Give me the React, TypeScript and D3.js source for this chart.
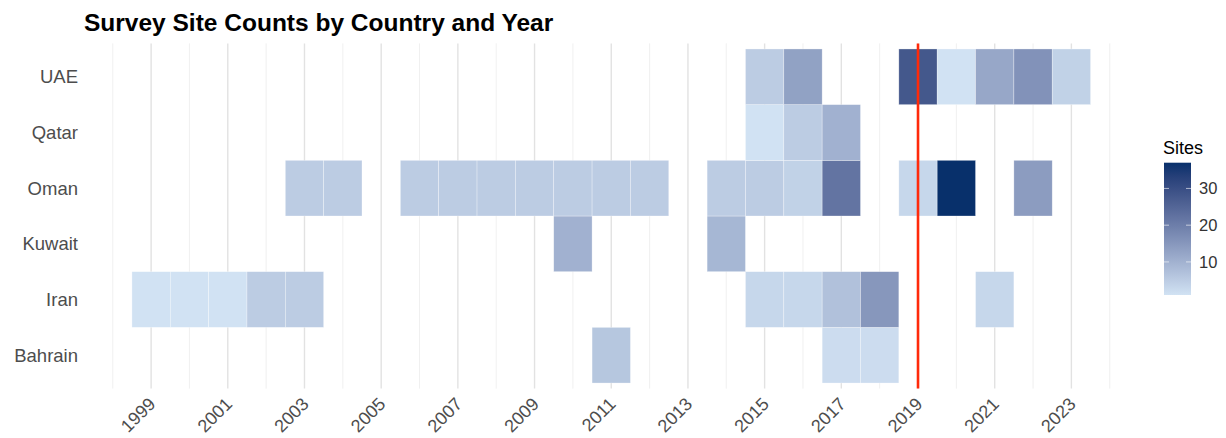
import * as d3 from 'd3';

// ─── Datos ────────────────────────────────────────────────────────────────
const countries = ['Bahrain', 'Iran', 'Kuwait', 'Oman', 'Qatar', 'UAE'];
const yearTicks = [1999, 2001, 2003, 2005, 2007, 2009, 2011, 2013, 2015, 2017, 2019, 2021, 2023];
const minorYears = [1998, 2000, 2002, 2004, 2006, 2008, 2010, 2012, 2014, 2016, 2018, 2020, 2022, 2024];
const legendTicks = [10, 20, 30];
const markerYear = 2019;

const bahrainYears = [2011, 2017, 2018];
const bahrainSites = [6, 2, 2];
const iranYears = [1999, 2000, 2001, 2002, 2003, 2015, 2016, 2017, 2018, 2021];
const iranSites = [1, 1, 1, 5, 5, 3, 3, 7, 15, 3];
const kuwaitYears = [2010, 2014];
const kuwaitSites = [10, 9];
const omanYears = [2003, 2004, 2006, 2007, 2008, 2009, 2010, 2011, 2012, 2014, 2015, 2016, 2017, 2019, 2020, 2022];
const omanSites = [5, 5, 5, 5, 5, 5, 5, 5, 5, 5, 5, 4, 22, 3, 37, 14];
const qatarYears = [2015, 2016, 2017];
const qatarSites = [1, 5, 10];
const uaeYears = [2015, 2016, 2019, 2020, 2021, 2022, 2023];
const uaeSites = [5, 13, 28, 1, 12, 16, 4];

const rows = [
  { country: 'Bahrain', years: bahrainYears, sites: bahrainSites },
  { country: 'Iran', years: iranYears, sites: iranSites },
  { country: 'Kuwait', years: kuwaitYears, sites: kuwaitSites },
  { country: 'Oman', years: omanYears, sites: omanSites },
  { country: 'Qatar', years: qatarYears, sites: qatarSites },
  { country: 'UAE', years: uaeYears, sites: uaeSites },
];

const W = 1226;
const H = 438;
const FONT = '"Liberation Sans", Arial, sans-serif';

export default function App() {
  const tiles = rows.flatMap(r => r.years.map((y, i) => ({ country: r.country, year: y, sites: r.sites[i] })));

  const x = d3.scaleLinear().domain([1997.25, 2024.75]).range([84, 1138.5]);
  const y = d3.scaleLinear().domain([0.4, countries.length + 0.6]).range([388.6, 43.4]);
  const rowIdx = (c: string) => countries.indexOf(c) + 1;

  const sMin = 1;
  const sMax = 37;
  const color = d3.scaleLinear<string>()
    .domain([sMin, sMax])
    .range(['#d1e2f3', '#08306b'])
    .interpolate(d3.interpolateLab);

  // leyenda
  const lgX = 1164;
  const lgW = 27;
  const lgY = d3.scaleLinear().domain([sMin, sMax]).range([295, 162.7]);
  const stops = d3.range(0, 1.0001, 0.1).map(t => ({ t, c: color(sMin + t * (sMax - sMin)) }));

  const panelTop = y(countries.length + 0.6);
  const panelBottom = y(0.4);

  return (
    <svg width={W} height={H} style={{ position: 'absolute', left: 0, top: 0, background: '#fff' }} fontFamily={FONT}>
      <defs>
        <linearGradient id="sites-grad" x1="0" y1="1" x2="0" y2="0">
          {stops.map(s => (
            <stop key={s.t} offset={`${s.t * 100}%`} stopColor={s.c} />
          ))}
        </linearGradient>
      </defs>

      {/* Título */}
      <text x={84} y={31} fontSize={24.5} fontWeight="bold" fill="#000">
        Survey Site Counts by Country and Year
      </text>

      {/* Rejilla */}
      {minorYears.map(v => (
        <line key={`mn${v}`} x1={x(v)} x2={x(v)} y1={panelTop} y2={panelBottom} stroke="#eeeeee" strokeWidth={0.9} />
      ))}
      {yearTicks.map(v => (
        <line key={`mj${v}`} x1={x(v)} x2={x(v)} y1={panelTop} y2={panelBottom} stroke="#e2e2e2" strokeWidth={1.4} />
      ))}

      {/* Celdas */}
      {tiles.map(d => (
        <rect
          key={`${d.country}-${d.year}`}
          x={x(d.year - 0.5)}
          y={y(rowIdx(d.country) + 0.5)}
          width={x(d.year + 0.5) - x(d.year - 0.5)}
          height={y(rowIdx(d.country) - 0.5) - y(rowIdx(d.country) + 0.5)}
          fill={color(d.sites)}
          stroke="#ffffff"
          strokeOpacity={0.5}
          strokeWidth={0.6}
        />
      ))}

      {/* Línea 2019 */}
      <line x1={x(markerYear)} x2={x(markerYear)} y1={panelTop} y2={panelBottom} stroke="#ff2a0a" strokeWidth={2.6} />

      {/* Eje Y */}
      {countries.map(c => (
        <text key={c} x={78} y={y(rowIdx(c))} dy="0.35em" textAnchor="end" fontSize={18.5} fill="#4d4d4d">
          {c}
        </text>
      ))}

      {/* Eje X */}
      {yearTicks.map(v => (
        <text
          key={`t${v}`}
          transform={`translate(${x(v) + 1},${panelBottom + 12}) rotate(-45)`}
          textAnchor="end"
          dy="0.35em"
          fontSize={18}
          fill="#4d4d4d"
        >
          {v}
        </text>
      ))}

      {/* Leyenda */}
      <text x={lgX - 1} y={154} fontSize={18} fill="#000">Sites</text>
      <rect x={lgX} y={lgY(sMax)} width={lgW} height={lgY(sMin) - lgY(sMax)} fill="url(#sites-grad)" />
      {legendTicks.map(v => (
        <g key={`l${v}`}>
          <line x1={lgX} x2={lgX + 5} y1={lgY(v)} y2={lgY(v)} stroke="#fff" strokeOpacity={0.6} strokeWidth={1} />
          <line x1={lgX + lgW - 5} x2={lgX + lgW} y1={lgY(v)} y2={lgY(v)} stroke="#fff" strokeOpacity={0.6} strokeWidth={1} />
          <text x={lgX + lgW + 8} y={lgY(v)} dy="0.35em" fontSize={16.5} fill="#333">{v}</text>
        </g>
      ))}
    </svg>
  );
}
